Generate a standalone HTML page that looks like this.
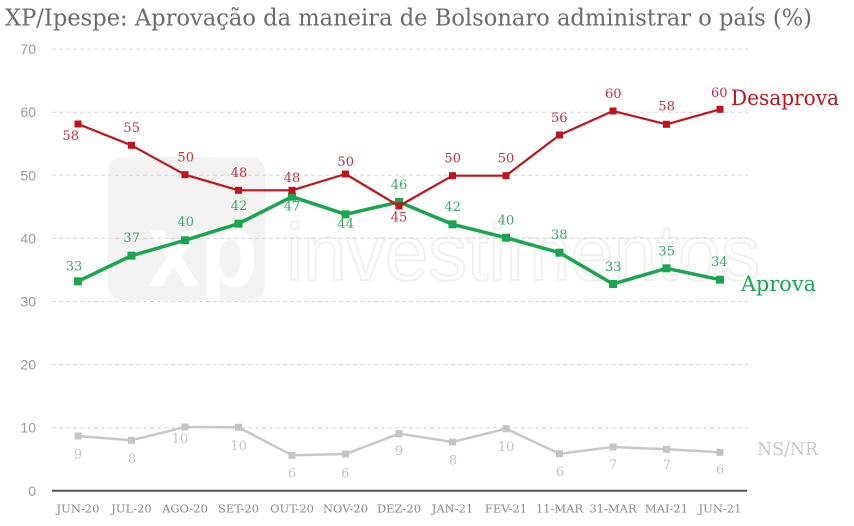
<!DOCTYPE html>
<html><head><meta charset="utf-8"><style>
html,body{margin:0;padding:0;background:#fff;}
svg{display:block;}
</style></head><body>
<svg width="854" height="526" viewBox="0 0 854 526" xmlns="http://www.w3.org/2000/svg">
<rect width="854" height="526" fill="#fff"/>
<!-- watermark -->
<rect x="108" y="157" width="157" height="143" rx="14" fill="#f3f3f3"/>
<text x="148" y="286" font-family="Liberation Sans, sans-serif" font-weight="bold" font-size="105" fill="#ffffff" textLength="110" lengthAdjust="spacingAndGlyphs">xp</text>
<text x="286" y="280" font-family="Liberation Sans, sans-serif" font-size="80" fill="none" stroke="#f0f0f0" stroke-width="2" textLength="474" lengthAdjust="spacingAndGlyphs">investimentos</text>

<text x="5" y="25.5" font-family="DejaVu Serif, serif" font-size="23" fill="#6a6a6a" textLength="807" lengthAdjust="spacingAndGlyphs">XP/Ipespe: Aprovação da maneira de Bolsonaro administrar o país (%)</text>

<g stroke="#d8d8d8" stroke-width="1" stroke-dasharray="4,3">
<line x1="52" x2="748" y1="49.1" y2="49.1"/>
<line x1="52" x2="748" y1="112.2" y2="112.2"/>
<line x1="52" x2="748" y1="175.3" y2="175.3"/>
<line x1="52" x2="748" y1="238.4" y2="238.4"/>
<line x1="52" x2="748" y1="301.5" y2="301.5"/>
<line x1="52" x2="748" y1="364.6" y2="364.6"/>
<line x1="52" x2="748" y1="427.7" y2="427.7"/>
</g>
<g font-family="Liberation Sans, sans-serif" font-size="14" fill="#9a9a9a" text-anchor="end" dominant-baseline="central">
<text x="36" y="49.1">70</text>
<text x="36" y="112.2">60</text>
<text x="36" y="175.3">50</text>
<text x="36" y="238.4">40</text>
<text x="36" y="301.5">30</text>
<text x="36" y="364.6">20</text>
<text x="36" y="427.7">10</text>
<text x="36" y="490.8">0</text>
</g>
<line x1="52" x2="747" y1="490.8" y2="490.8" stroke="#555" stroke-width="2"/>

<g font-family="DejaVu Serif, serif" font-size="11.5" fill="#8a8a8a" text-anchor="middle" dominant-baseline="central">
<text x="78" y="508.5">JUN-20</text>
<text x="131.5" y="508.5">JUL-20</text>
<text x="185" y="508.5">AGO-20</text>
<text x="238.5" y="508.5">SET-20</text>
<text x="292" y="508.5">OUT-20</text>
<text x="345.5" y="508.5">NOV-20</text>
<text x="399" y="508.5">DEZ-20</text>
<text x="452.5" y="508.5">JAN-21</text>
<text x="506" y="508.5">FEV-21</text>
<text x="559.5" y="508.5">11-MAR</text>
<text x="613" y="508.5">31-MAR</text>
<text x="666.5" y="508.5">MAI-21</text>
<text x="720" y="508.5">JUN-21</text>
</g>

<!-- NS/NR -->
<polyline fill="none" stroke="#c8c8c8" stroke-width="2.5" points="78,436 131.5,440.3 185,427 238.5,427.3 292,455.3 345.5,454 399,433.7 452.5,442 506,428.7 559.5,453.7 613,447 666.5,449.3 720,452.3"/>
<g fill="#c4c4c4">
<rect x="74.5" y="432.5" width="7" height="7"/><rect x="128" y="436.8" width="7" height="7"/><rect x="181.5" y="423.5" width="7" height="7"/><rect x="235" y="423.8" width="7" height="7"/><rect x="288.5" y="451.8" width="7" height="7"/><rect x="342" y="450.5" width="7" height="7"/><rect x="395.5" y="430.2" width="7" height="7"/><rect x="449" y="438.5" width="7" height="7"/><rect x="502.5" y="425.2" width="7" height="7"/><rect x="556" y="450.2" width="7" height="7"/><rect x="609.5" y="443.5" width="7" height="7"/><rect x="663" y="445.8" width="7" height="7"/><rect x="716.5" y="448.8" width="7" height="7"/>
</g>
<g font-family="DejaVu Serif, serif" font-size="13" fill="#c4c4c4" text-anchor="middle" dominant-baseline="central">
<text x="78" y="455">9</text><text x="132" y="459.3">8</text><text x="180" y="439.3">10</text><text x="238.7" y="446.7">10</text><text x="292" y="474">6</text><text x="345.3" y="474">6</text><text x="399" y="451.7">9</text><text x="453" y="461">8</text><text x="506" y="447.3">10</text><text x="560" y="472.7">6</text><text x="613" y="465.3">7</text><text x="667" y="465.3">7</text><text x="720" y="470.7">6</text>
</g>
<text x="757" y="455" font-family="DejaVu Serif, serif" font-size="18" fill="#c8c8c8" textLength="61" lengthAdjust="spacingAndGlyphs">NS/NR</text>

<!-- Aprova -->
<polyline fill="none" stroke="#1aa64e" stroke-width="3.5" stroke-linejoin="round" points="78,281.3 131.5,255.7 185,240.3 238.5,223.7 292,196.7 345.5,214.3 399,202 452.5,224.3 506,237.7 559.5,252.7 613,284 666.5,268.3 720,279.7"/>
<g fill="#1aa64e">
<rect x="74" y="277.3" width="8" height="8"/><rect x="127.5" y="251.7" width="8" height="8"/><rect x="181" y="236.3" width="8" height="8"/><rect x="234.5" y="219.7" width="8" height="8"/><rect x="288" y="192.7" width="8" height="8"/><rect x="341.5" y="210.3" width="8" height="8"/><rect x="395" y="198" width="8" height="8"/><rect x="448.5" y="220.3" width="8" height="8"/><rect x="502" y="233.7" width="8" height="8"/><rect x="555.5" y="248.7" width="8" height="8"/><rect x="609" y="280" width="8" height="8"/><rect x="662.5" y="264.3" width="8" height="8"/><rect x="716" y="275.7" width="8" height="8"/>
</g>
<g font-family="DejaVu Serif, serif" font-size="13" fill="#3aab61" text-anchor="middle" dominant-baseline="central">
<text x="74" y="267">33</text><text x="131.7" y="238.7">37</text><text x="185.7" y="222.7">40</text><text x="239" y="206.7">42</text><text x="292" y="207">47</text><text x="345.7" y="224.7">44</text><text x="399" y="185.3">46</text><text x="452.7" y="207.3">42</text><text x="506" y="221">40</text><text x="559.3" y="235.7">38</text><text x="613.3" y="267.7">33</text><text x="666.7" y="252">35</text><text x="719.3" y="262.3">34</text>
</g>
<text x="741" y="291" font-family="DejaVu Serif, serif" font-size="21" fill="#1aa64e" textLength="75" lengthAdjust="spacingAndGlyphs">Aprova</text>

<!-- Desaprova -->
<polyline fill="none" stroke="#c0141c" stroke-width="2.2" stroke-linejoin="round" points="78,124 131.5,145.3 185,174.7 238.5,190.3 292,190.3 345.5,174 399,206 452.5,175.7 506,175.7 559.5,135 613,111 666.5,124.3 720,109.3"/>
<g fill="#c0141c">
<rect x="74.5" y="120.5" width="7" height="7"/><rect x="128" y="141.8" width="7" height="7"/><rect x="181.5" y="171.2" width="7" height="7"/><rect x="235" y="186.8" width="7" height="7"/><rect x="288.5" y="186.8" width="7" height="7"/><rect x="342" y="170.5" width="7" height="7"/><rect x="395.5" y="202.5" width="7" height="7"/><rect x="449" y="172.2" width="7" height="7"/><rect x="502.5" y="172.2" width="7" height="7"/><rect x="556" y="131.5" width="7" height="7"/><rect x="609.5" y="107.5" width="7" height="7"/><rect x="663" y="120.8" width="7" height="7"/><rect x="716.5" y="105.8" width="7" height="7"/>
</g>
<g font-family="DejaVu Serif, serif" font-size="13" fill="#c4303a" text-anchor="middle" dominant-baseline="central">
<text x="70.7" y="136.7">58</text><text x="131.7" y="128.7">55</text><text x="185.7" y="158">50</text><text x="239" y="173.7">48</text><text x="292" y="178.7">48</text><text x="345.7" y="162.7">50</text><text x="399" y="218">45</text><text x="452.7" y="159">50</text><text x="506" y="159">50</text><text x="559.3" y="118.7">56</text><text x="613.3" y="94.7">60</text><text x="666.7" y="107">58</text><text x="719.3" y="93.3">60</text>
</g>
<text x="731" y="105" font-family="DejaVu Serif, serif" font-size="21" fill="#c0141c" textLength="108" lengthAdjust="spacingAndGlyphs">Desaprova</text>
</svg>
</body></html>
